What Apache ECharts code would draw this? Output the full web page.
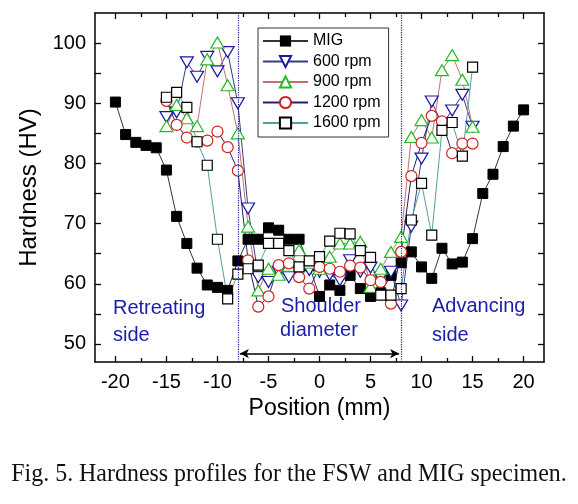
<!DOCTYPE html>
<html><head><meta charset="utf-8">
<script src="https://cdn.jsdelivr.net/npm/echarts@6/dist/echarts.min.js"></script>
<style>html,body{margin:0;padding:0;background:#fff}#c{width:578px;height:504px}</style>
</head><body><div id="c"></div>
<script>
// ---- data ----
const migPositions = [-20,-19,-18,-17,-16,-15,-14,-13,-12,-11,-10,-9,-8,-7,-6,-5,-4,-3,-2,-1,0,1,2,3,4,5,6,7,8,9,10,11,12,13,14,15,16,17,18,19,20];
const migValues = [90.2,84.8,83.5,83.0,82.6,78.9,71.2,66.7,62.6,59.8,59.4,58.9,63.8,67.4,67.4,69.3,68.9,67.4,67.4,63.0,57.9,59.8,58.9,61.4,59.2,57.9,58.5,61.4,63.5,65.3,62.8,60.9,65.9,63.3,63.6,67.5,75.0,78.2,82.8,86.2,88.9];
const fswPositions = [-15,-14,-13,-12,-11,-10,-9,-8,-7,-6,-5,-4,-3,-2,-1,0,1,2,3,4,5,6,7,8,9,10,11,12,13,14,15];
const rpm600 = [87.7,88.5,96.8,94.4,97.7,95.3,98.5,90.0,72.5,61.1,60.3,62.0,61.1,62.5,62.3,62.0,61.5,60.6,63.9,62.0,62.7,61.0,62.0,56.4,69.5,80.8,90.3,86.5,88.8,91.4,86.1];
const rpm900 = [86.2,89.7,87.5,86.2,97.3,100.1,93.0,85.0,69.5,58.9,62.5,61.5,63.0,65.6,63.5,62.5,64.5,66.7,66.7,67.0,59.5,62.5,65.3,67.8,84.4,87.2,84.3,95.5,98.0,93.9,86.1];
const rpm1200 = [90.4,86.4,84.3,83.6,83.8,85.3,82.7,78.8,63.9,56.2,57.9,63.1,63.4,61.1,59.2,62.8,62.5,62.0,63.0,62.7,60.6,60.3,56.7,65.3,77.9,83.4,87.9,87.0,81.7,83.3,83.3];
const rpm1600 = [91.0,91.8,89.3,83.6,79.7,67.4,57.5,61.6,62.5,63.1,66.7,66.7,65.5,62.8,63.8,64.5,67.1,68.4,68.3,65.5,64.4,58.1,58.1,59.2,70.6,76.7,68.1,85.5,86.8,81.2,96.0];
const seriesNames = ['MIG','600 rpm','900 rpm','1200 rpm','1600 rpm'];
const xMajorTicks = [-20,-15,-10,-5,0,5,10,15,20];
const xMinorTicks = [-17.5,-12.5,-7.5,-2.5,2.5,7.5,12.5,17.5];
const yTickValues = [50,55,60,65,70,75,80,85,90,95,100];
const yLabelValues = [50,60,70,80,90,100];
const shoulderEdges = [-8, 8];
const arrowLevel = 48.4;

// ---- chart ----
const FONT = 'Liberation Sans, Arial, sans-serif';
const chart = echarts.init(document.getElementById('c'), null, {renderer:'canvas'});
const pair = (xs, ys) => xs.map((x, i) => [x, ys[i]]);
function xAx(pos, ticks, len, showLine, labels) {
  return {
    type:'value', position:pos, min:-22, max:22, gridIndex:0,
    axisLine:{show:showLine, onZero:false, lineStyle:{color:'#000', width:1.5}},
    axisTick:{show:true, inside:true, length:len, customValues:ticks, lineStyle:{color:'#000', width:1.3}},
    axisLabel: labels ? {show:true, customValues:xMajorTicks, fontSize:20, color:'#000', fontFamily:FONT, margin:10} : {show:false},
    splitLine:{show:false},
    name: labels ? 'Position (mm)' : '', nameLocation:'middle', nameGap:35,
    nameTextStyle:{fontSize:23, color:'#000', fontFamily:FONT}
  };
}
function yAx(pos, showLine, labels) {
  return {
    type:'value', position:pos, min:47, max:105, gridIndex:0,
    axisLine:{show:showLine, onZero:false, lineStyle:{color:'#000', width:1.5}},
    axisTick:{show:true, inside:true, length:6, customValues:yTickValues, lineStyle:{color:'#000', width:1.3}},
    axisLabel: labels ? {show:true, customValues:yLabelValues, fontSize:20, color:'#000', fontFamily:FONT, margin:9} : {show:false},
    splitLine:{show:false},
    name: labels ? 'Hardness (HV)' : '', nameLocation:'middle', nameGap:29,
    nameTextStyle:{fontSize:24, color:'#000', fontFamily:FONT}
  };
}
const base = {type:'line', xAxisIndex:0, yAxisIndex:0, animation:false, silent:true, emphasis:{disabled:true}};
const blue = '#1c1cb0';
const txt = (t, x, y, align) => ({type:'text', x:x, y:y, silent:true,
  style:{text:t, fill:blue, font:'20px ' + FONT, textAlign:align, textVerticalAlign:'middle'}});

chart.setOption({
  animation:false,
  grid:{left:95, right:34, top:13, bottom:142},
  xAxis:[xAx('bottom', xMajorTicks, 6, true, true), xAx('bottom', xMinorTicks, 4, false, false),
         xAx('top', xMajorTicks, 6, true, false), xAx('top', xMinorTicks, 4, false, false)],
  yAxis:[yAx('left', true, true), yAx('right', true, false)],
  legend:{
    data:seriesNames, orient:'vertical', left:258, top:28,
    padding:[5,8,6,4], itemGap:4.5, itemWidth:45, itemHeight:14,
    borderColor:'#333', borderWidth:1, backgroundColor:'#fff',
    textStyle:{fontSize:16, lineHeight:14, color:'#000', fontFamily:FONT}, selectedMode:false
  },
  series:[
    Object.assign({}, base, {name:seriesNames[0], data:pair(migPositions, migValues), symbol:'rect', symbolSize:10,
      itemStyle:{color:'#000', borderColor:'#000'}, lineStyle:{color:'#333', width:1}}),
    Object.assign({}, base, {name:seriesNames[1], data:pair(fswPositions, rpm600), symbol:'path://M0,0L10,0L5,8.66Z', symbolSize:[13,11],
      itemStyle:{color:'#fff', borderColor:'#1a1aa0', borderWidth:1.2}, lineStyle:{color:'#3a3a80', width:1}}),
    Object.assign({}, base, {name:seriesNames[2], data:pair(fswPositions, rpm900), symbol:'triangle', symbolSize:[13,11],
      itemStyle:{color:'#fff', borderColor:'#22bb22', borderWidth:1.2}, lineStyle:{color:'#c07070', width:1}}),
    Object.assign({}, base, {name:seriesNames[3], data:pair(fswPositions, rpm1200), symbol:'circle', symbolSize:11,
      itemStyle:{color:'#fff', borderColor:'#d02020', borderWidth:1.2}, lineStyle:{color:'#202070', width:1}}),
    Object.assign({}, base, {name:seriesNames[4], data:pair(fswPositions, rpm1600), symbol:'rect', symbolSize:10,
      itemStyle:{color:'#fff', borderColor:'#000', borderWidth:1.2}, lineStyle:{color:'#50a0a0', width:1}}),
    Object.assign({}, base, {name:'annot', data:[], z:1,
      markLine:{silent:true, animation:false, symbol:'none', label:{show:false},
        lineStyle:{color:'#1a1a80', type:'dotted', width:1.2},
        data: shoulderEdges.map(v => ({xAxis:v}))}}),
    Object.assign({}, base, {name:'arrow', data:[], z:1,
      markLine:{silent:true, animation:false, symbol:['arrow','arrow'], symbolSize:[7,9], label:{show:false},
        lineStyle:{color:'#000', type:'solid', width:1.5},
        data:[[{coord:[shoulderEdges[0] + 0.2, arrowLevel]}, {coord:[shoulderEdges[1] - 0.2, arrowLevel]}]]}})
  ],
  graphic:[
    txt('Retreating', 113, 308, 'left'), txt('side', 113, 335, 'left'),
    txt('Shoulder', 321, 306, 'center'), txt('diameter', 319, 330, 'center'),
    txt('Advancing', 432, 306, 'left'), txt('side', 432, 335, 'left'),
    {type:'text', x:289, y:474, silent:true, scaleX:0.92, originX:0, originY:0,
      style:{text:'Fig. 5. Hardness profiles for the FSW and MIG specimen.', fill:'#111',
        font:'26px Liberation Serif, Times New Roman, serif', textAlign:'center', textVerticalAlign:'middle'}}
  ]
});
</script></body></html>
